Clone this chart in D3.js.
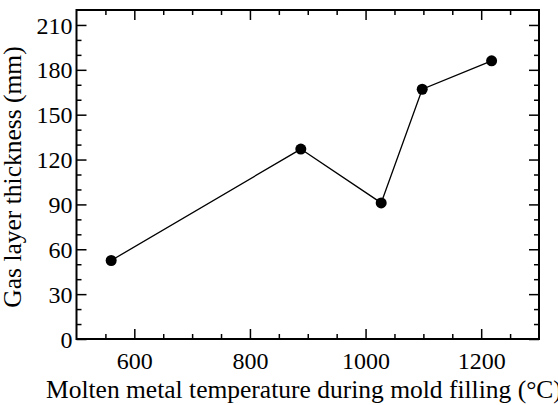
<!DOCTYPE html>
<html>
<head>
<meta charset="utf-8">
<script src="https://cdn.jsdelivr.net/npm/d3@7"></script>
<style>
  body { margin: 0; background: #fff; overflow: hidden; }
</style>
</head>
<body>
<script>
// data
var temps = [560, 888, 1027, 1098, 1218],
	thickness = [52.5, 127, 91, 167, 186];

var xTicks = [600, 800, 1000, 1200],
	yTicks = [0, 30, 60, 90, 120, 150, 180, 210];

var serif = "'Liberation Serif', 'Times New Roman', Times, serif";

var width = 558,
	height = 405,
	margin = {top: 10, right: 19, bottom: 66, left: 76.5};

var svg = d3.select("body").append("svg")
		.attr("width", width)
		.attr("height", height);

var x = d3.scaleLinear().domain([500, 1300]).range([margin.left, width - margin.right]),
	y = d3.scaleLinear().domain([0, 220]).range([height - margin.bottom, margin.top]);

var minorX = d3.range(550, 1300, 50).filter(function(d){ return xTicks.indexOf(d) < 0; }),
	minorY = d3.range(10, 220, 10).filter(function(d){ return yTicks.indexOf(d) < 0; });

function axisGroup(axis, tx, ty){
	var g = svg.append("g").attr("transform", "translate(" + tx + "," + ty + ")").call(axis);
	g.select(".domain").remove();
	g.selectAll("line").attr("stroke", "#000").attr("stroke-width", 1.5);
	g.selectAll("text")
			.style("font-family", serif)
			.style("font-size", "24px")
			.attr("fill", "#000");
	return g;
}

var plotBottom = y(0), plotTop = y(220), plotLeft = x(500), plotRight = x(1300);

// major ticks (inward)
axisGroup(d3.axisBottom(x).tickValues(xTicks).tickSize(-10).tickPadding(13).tickFormat(d3.format("d")), 0, plotBottom);
axisGroup(d3.axisTop(x).tickValues(xTicks).tickSize(-10).tickFormat(""), 0, plotTop);
var gl = axisGroup(d3.axisLeft(y).tickValues(yTicks).tickSize(-10).tickPadding(4), plotLeft, 0);
gl.selectAll("text").attr("dy", "0.34em");
axisGroup(d3.axisRight(y).tickValues(yTicks).tickSize(-10).tickFormat(""), plotRight, 0);

// minor ticks
axisGroup(d3.axisBottom(x).tickValues(minorX).tickSize(-5).tickFormat(""), 0, plotBottom);
axisGroup(d3.axisTop(x).tickValues(minorX).tickSize(-5).tickFormat(""), 0, plotTop);
axisGroup(d3.axisLeft(y).tickValues(minorY).tickSize(-5).tickFormat(""), plotLeft, 0);
axisGroup(d3.axisRight(y).tickValues(minorY).tickSize(-5).tickFormat(""), plotRight, 0);

// frame
svg.append("rect")
		.attr("x", plotLeft)
		.attr("y", plotTop)
		.attr("width", plotRight - plotLeft)
		.attr("height", plotBottom - plotTop)
		.attr("fill", "none")
		.attr("stroke", "#000")
		.attr("stroke-width", 2);

var pts = temps.map(function(t, i){ return {t: t, v: thickness[i]}; });

svg.append("path")
		.datum(pts)
		.attr("fill", "none")
		.attr("stroke", "#000")
		.attr("stroke-width", 1.3)
		.attr("d", d3.line().x(function(d){ return x(d.t); }).y(function(d){ return y(d.v); }));

svg.selectAll("circle.pt")
		.data(pts)
	.enter().append("circle")
		.attr("class", "pt")
		.attr("cx", function(d){ return x(d.t); })
		.attr("cy", function(d){ return y(d.v); })
		.attr("r", 5.5)
		.attr("fill", "#000");

svg.append("text")
		.attr("x", 46)
		.attr("y", 398)
		.style("font-family", serif)
		.style("font-size", "25.5px")
		.text("Molten metal temperature during mold filling (\u00B0C)");

svg.append("text")
		.attr("transform", "translate(21,177) rotate(-90)")
		.attr("text-anchor", "middle")
		.style("font-family", serif)
		.style("font-size", "25.5px")
		.text("Gas layer thickness (mm)");
</script>
</body>
</html>
